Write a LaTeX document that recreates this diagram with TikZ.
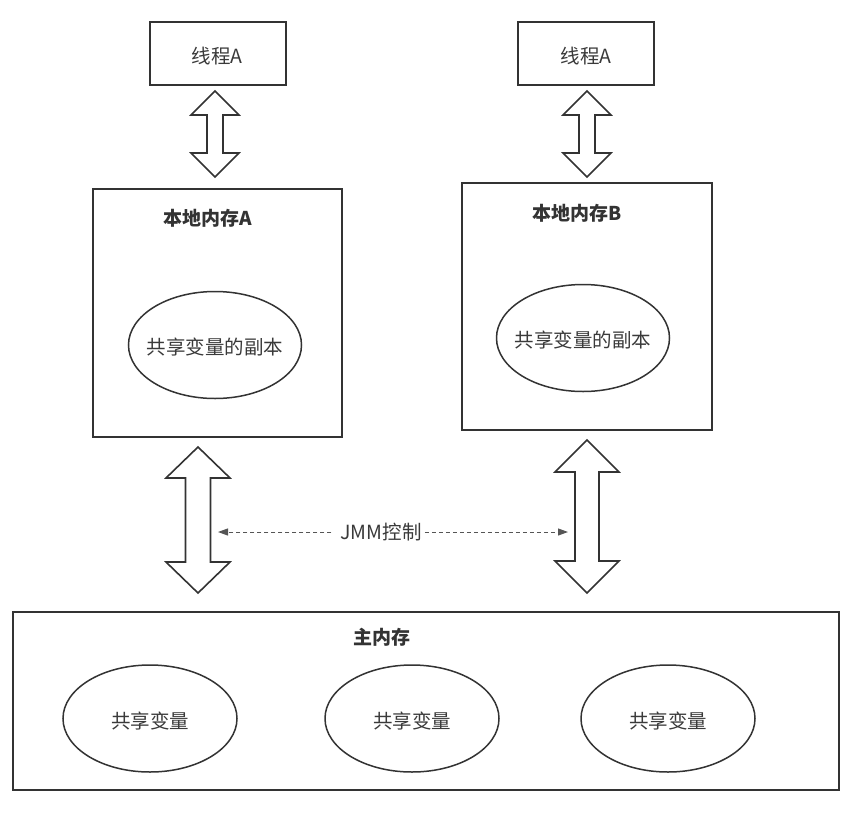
\documentclass[tikz,border=0pt]{standalone}
\usepackage{fontspec}
\setmainfont{Noto Sans CJK SC}
\usetikzlibrary{arrows.meta,shapes.geometric}
\definecolor{linec}{HTML}{333333}
\definecolor{textc}{HTML}{3a3a3a}
\definecolor{dashc}{HTML}{555555}
\newcommand{\blockarr}[6]{% x, ytop, ybot, headhalf, shafthalf, headlen
  \draw[blockarrow] (#1,#2) -- ({#1+#4},{#2+#6}) -- ({#1+#5},{#2+#6}) -- ({#1+#5},{#3-#6})
    -- ({#1+#4},{#3-#6}) -- (#1,#3) -- ({#1-#4},{#3-#6}) -- ({#1-#5},{#3-#6})
    -- ({#1-#5},{#2+#6}) -- ({#1-#4},{#2+#6}) -- cycle;}
\tikzset{
  box/.style={draw=linec, line width=1.8pt, rectangle, inner sep=0pt},
  ell/.style={draw=linec, line width=1.5pt, ellipse, inner sep=0pt,
    minimum width=173pt, minimum height=107pt},
  lbl/.style={text=textc, font=\fontsize{19.5}{23}\selectfont, inner sep=2pt},
  ttl/.style={text=linec, font=\fontsize{19}{23}\selectfont\bfseries, inner sep=0pt},
  blockarrow/.style={draw=linec, line width=1.6pt, fill=white, line join=miter},
  jmm/.style={draw=dashc, line width=1pt, dash pattern=on 4pt off 3pt,
    -{Triangle[length=10pt,width=7pt]}}
}
\begin{document}
\begin{tikzpicture}[x=1pt,y=-1pt]
\useasboundingbox[fill=white] (0,0) rectangle (852,820);

% thread boxes
\node[box, minimum width=136pt, minimum height=63pt] (tA) at (218,53.5) {};
\node[lbl] (tAl) at (217,56) {线程A};
\node[box, minimum width=136pt, minimum height=63pt] (tB) at (586,53.5) {};
\node[lbl] (tBl) at (586,56) {线程A};

% local memories
\node[box, minimum width=249pt, minimum height=248pt] (memA) at (217.5,313) {};
\node[ttl] (memAt) at (208,218) {本地内存A};
\node[ell] (ellA) at (215,345) {};
\node[lbl] (ellAl) at (215,347) {共享变量的副本};

\node[box, minimum width=250pt, minimum height=247pt] (memB) at (587,306.5) {};
\node[ttl] (memBt) at (577,213) {本地内存B};
\node[ell] (ellB) at (583,338) {};
\node[lbl] (ellBl) at (583,340) {共享变量的副本};

% main memory
\node[box, minimum width=826pt, minimum height=178pt] (mainM) at (426,701) {};
\node[ttl] (mainT) at (382,637) {主内存};
\node[ell, minimum width=174pt] (v1) at (150,718.5) {};
\node[lbl] (v1l) at (150,721) {共享变量};
\node[ell, minimum width=174pt] (v2) at (412,718.5) {};
\node[lbl] (v2l) at (412,721) {共享变量};
\node[ell, minimum width=174pt] (v3) at (668,718.5) {};
\node[lbl] (v3l) at (668,721) {共享变量};

% block double arrows
\blockarr{215}{91}{177}{24}{8}{24}
\blockarr{587}{91}{177}{24}{8}{24}
\blockarr{198}{447}{593}{32}{12.5}{31}
\blockarr{587}{440}{593}{32}{12}{32}

% JMM control
\node[lbl, fill=white, inner sep=3pt] (jmm) at (381,532) {JMM控制};
\coordinate (jl) at (218,532);
\coordinate (jr) at (568,532);
\draw[jmm] ([xshift=-6pt]jmm.west) -- (jl);
\draw[jmm] (jmm.east) -- (jr);
\end{tikzpicture}
\end{document}
